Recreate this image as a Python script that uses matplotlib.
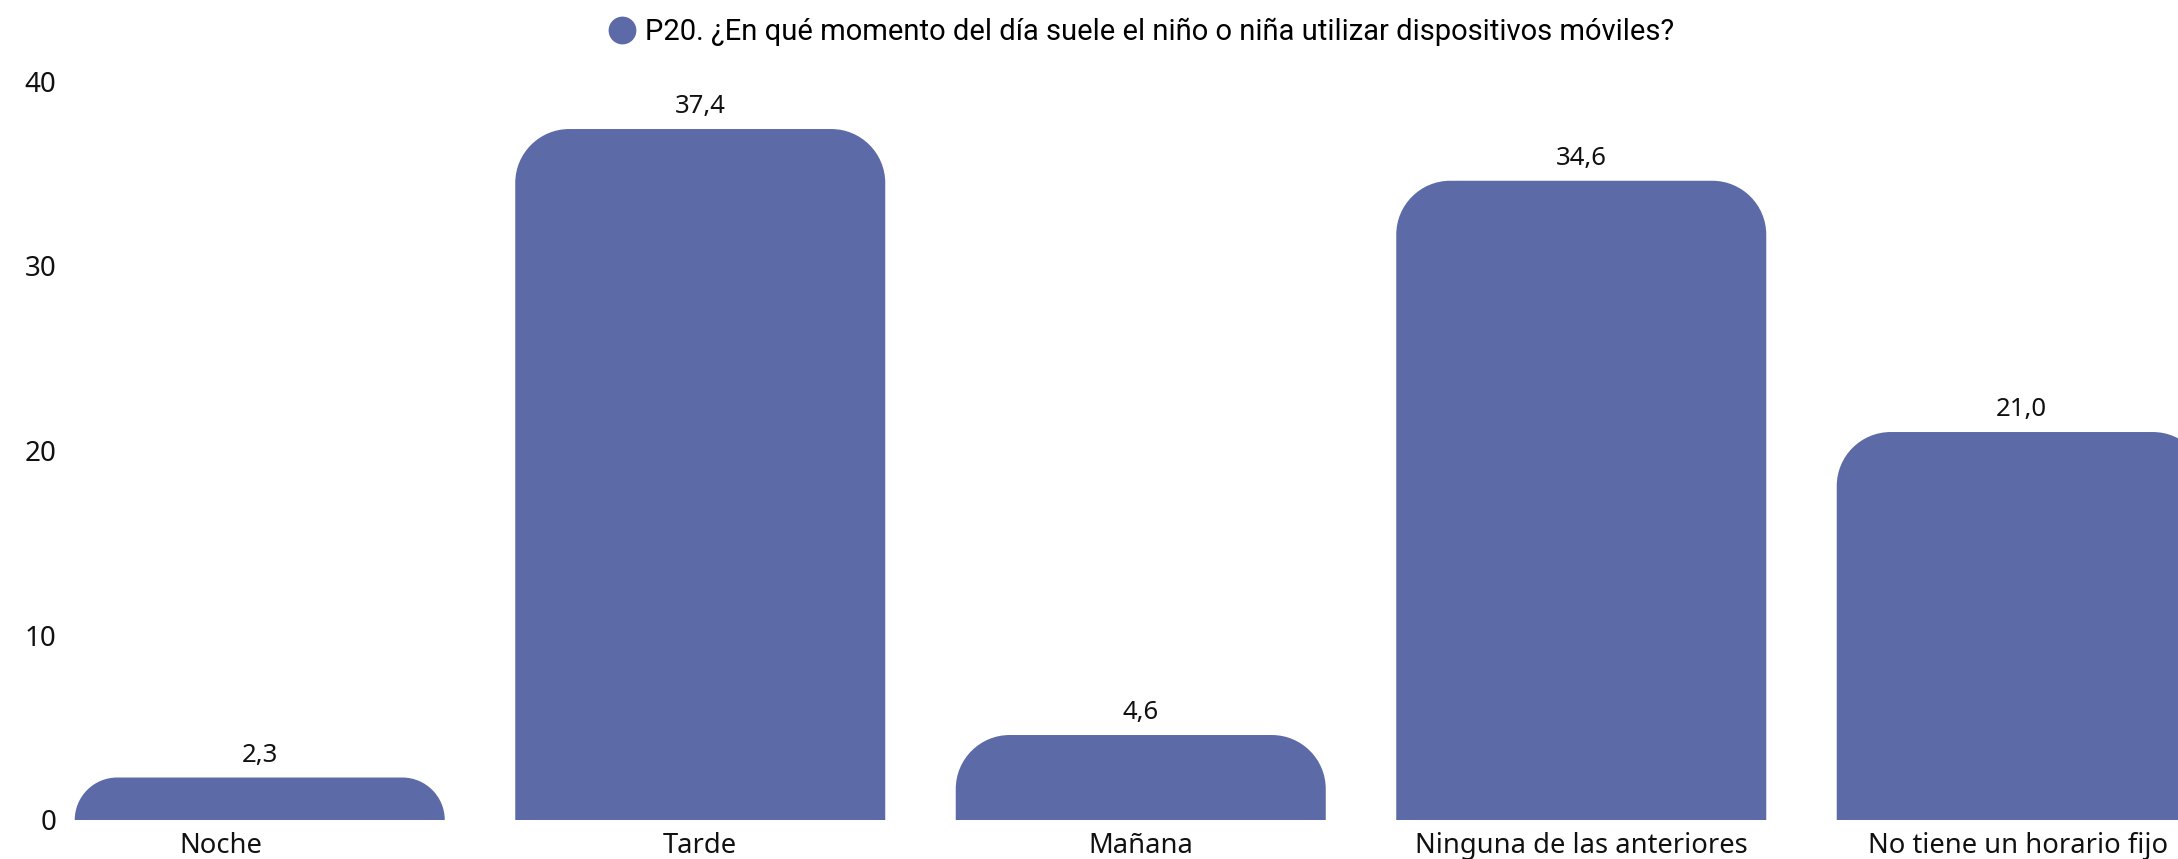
import matplotlib
matplotlib.use("Agg")
import matplotlib.pyplot as plt
from matplotlib import font_manager
from matplotlib.lines import Line2D
from matplotlib.patches import PathPatch
from matplotlib.path import Path
import matplotlib.transforms as mtransforms

categories = ["Noche", "Tarde", "Mañana", "Ninguna de las anteriores", "No tiene un horario fijo"]
values = [2.3, 37.4, 4.6, 34.6, 21.0]
series_name = "P20. ¿En qué momento del día suele el niño o niña utilizar dispositivos móviles?"
y_ticks = [0, 10, 20, 30, 40]

bar_color = "#5c6ba7"
text_color = "#111111"

installed = {f.name for f in font_manager.fontManager.ttflist}


def pick(*names):
    for name in names:
        if name in installed:
            return name
    return "DejaVu Sans"


main_font = pick("Noto Sans", "Open Sans", "DejaVu Sans")
title_font = pick("Liberation Sans Narrow", "DejaVu Sans Condensed", "Roboto")


def rounded_top_path(x0, y0, w, h, rx, ry):
    k = 0.5523
    top = y0 + h
    verts = [
        (x0, y0),
        (x0, top - ry),
        (x0, top - ry + k * ry), (x0 + rx - k * rx, top), (x0 + rx, top),
        (x0 + w - rx, top),
        (x0 + w - rx + k * rx, top), (x0 + w, top - ry + k * ry), (x0 + w, top - ry),
        (x0 + w, y0),
        (x0, y0),
    ]
    codes = [Path.MOVETO, Path.LINETO,
             Path.CURVE4, Path.CURVE4, Path.CURVE4,
             Path.LINETO,
             Path.CURVE4, Path.CURVE4, Path.CURVE4,
             Path.LINETO, Path.CLOSEPOLY]
    return Path(verts, codes)


fig = plt.figure(figsize=(21.78, 8.59), dpi=100)
W, H = 2178, 859
step_px = 440.5
left_px = 39.5
ax = fig.add_axes([left_px / W, (H - 820) / H, (W - left_px) / W, 739 / H])
ax.set_xlim(-0.5, -0.5 + (W - left_px) / step_px)
ax.set_ylim(0, 40)

x = list(range(len(categories)))
bars = ax.bar(x, values, width=0.84, color=bar_color)

# rounded corners: radius fixed in pixels, converted to data units per axis
radius_px = 54
x_per_px = (ax.get_xlim()[1] - ax.get_xlim()[0]) / (ax.get_position().width * W)
y_per_px = (ax.get_ylim()[1] - ax.get_ylim()[0]) / (ax.get_position().height * H)
for bar in bars:
    bx, by, bw, bh = bar.get_x(), bar.get_y(), bar.get_width(), bar.get_height()
    r = min(radius_px, bh / y_per_px)
    patch = PathPatch(rounded_top_path(bx, by, bw, bh, r * x_per_px, r * y_per_px),
                      facecolor=bar_color, edgecolor="none")
    ax.add_patch(patch)
    bar.set_visible(False)
    ax.annotate(f"{bh:.1f}".replace(".", ","), (bx + bw / 2, by + bh),
                xytext=(0, 7), textcoords="offset points", ha="center", va="bottom",
                fontsize=18.5, family=main_font, color=text_color)

for s in ax.spines.values():
    s.set_visible(False)

ax.set_yticks(y_ticks)
ax.set_yticklabels([str(t) for t in y_ticks], family=main_font, fontsize=20, color=text_color)
ax.tick_params(axis="y", length=0, pad=-12)
ax.set_xticks([])

# category labels under bars (first and last nudged like the original)
lab_trans = mtransforms.blended_transform_factory(ax.transData, ax.transAxes)
for i, name in enumerate(categories):
    if i == len(categories) - 1:
        t = ax.transAxes + mtransforms.ScaledTranslation(-0.1, 0, fig.dpi_scale_trans)
        ax.text(1.0, -0.016, name, transform=t, ha="right", va="top",
                fontsize=19.7, family=main_font, color=text_color, clip_on=False)
    else:
        off = -39 if i == 0 else 0
        t = lab_trans + mtransforms.ScaledTranslation(off / 100, 0, fig.dpi_scale_trans)
        ax.text(i, -0.016, name, transform=t, ha="center", va="top",
                fontsize=19.7, family=main_font, color=text_color, clip_on=False)

handle = Line2D([], [], marker="o", linestyle="none", markersize=19,
                markerfacecolor=bar_color, markeredgecolor=bar_color)
fig.legend([handle], [series_name], loc="upper center", bbox_to_anchor=(0.5204, 1.0),
           frameon=False, handletextpad=-0.2, borderpad=0.1,
           prop={"family": title_font, "size": 21})

fig.savefig("out.png", dpi=100)
